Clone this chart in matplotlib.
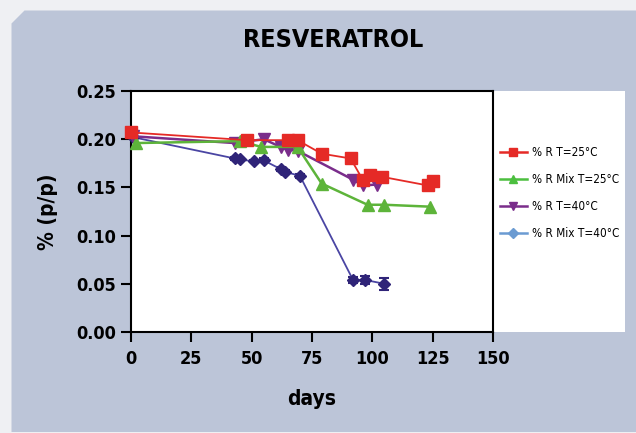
import matplotlib
matplotlib.use("Agg")
import matplotlib.pyplot as plt
from matplotlib.patches import Polygon, Rectangle
from matplotlib.lines import Line2D

plt.rcParams['font.family'] = ['DejaVu Sans']
plt.rcParams['font.stretch'] = 'condensed'
plt.rcParams['font.weight'] = 'bold'

# ---- data ----
red_days = [0, 48, 65, 69, 79, 91, 96, 99, 104, 123, 125]
red_vals = [0.207, 0.199, 0.199, 0.199, 0.185, 0.180, 0.158, 0.163, 0.161, 0.152, 0.157]

green_days = [2, 45, 54, 69, 79, 98, 105, 124]
green_vals = [0.196, 0.198, 0.192, 0.192, 0.154, 0.132, 0.132, 0.130]

purple_days = [1, 43, 55, 62, 65, 69, 92, 96, 102]
purple_vals = [0.203, 0.196, 0.200, 0.192, 0.189, 0.188, 0.158, 0.152, 0.153]

navy_days = [1, 43, 45, 51, 55, 62, 64, 70, 92, 97, 105]
navy_vals = [0.202, 0.180, 0.179, 0.177, 0.178, 0.169, 0.166, 0.162, 0.054, 0.054, 0.050]
navy_err = [0.001, 0.002, 0.001, 0.001, 0.002, 0.002, 0.002, 0.002, 0.003, 0.004, 0.006]

labels = ['% R T=25°C', '% R Mix T=25°C', '% R T=40°C', '% R Mix T=40°C']
xticks = [0, 25, 50, 75, 100, 125, 150]
yticks = [0.00, 0.05, 0.10, 0.15, 0.20, 0.25]

W, H = 636, 433
fig = plt.figure(figsize=(W / 100, H / 100), dpi=100, facecolor='#eff0f3')

# panel with cut corner
panel_col = '#bcc5d8'
poly = Polygon([(11.5 / W, 1 / H), (1.0, 1 / H), (1.0, 422.5 / H), (24.5 / W, 422.5 / H),
                (11.5 / W, 409.5 / H)], closed=True, transform=fig.transFigure,
               facecolor=panel_col, edgecolor='none', zorder=-3)
fig.patches.append(poly)

ax_l, ax_r, ax_t, ax_b = 131, 493, 91, 332
white = Rectangle((ax_l / W, (H - ax_b) / H), (625 - ax_l) / W, (ax_b - ax_t) / H,
                  transform=fig.transFigure, facecolor='white', edgecolor='none', zorder=-2)
fig.patches.append(white)

ax = fig.add_axes([ax_l / W, (H - ax_b) / H, (ax_r - ax_l) / W, (ax_b - ax_t) / H])
ax.set_facecolor('white')

c_red = '#e52a26'
c_green = '#5db43a'
c_purple = '#7a2d8b'
c_navy_line = '#4a45a3'
c_navy_mk = '#2f2478'

ax.errorbar(navy_days, navy_vals, yerr=navy_err, color=c_navy_line, lw=1.3,
            marker='D', ms=6, mfc=c_navy_mk, mec=c_navy_mk, ecolor=c_navy_mk,
            elinewidth=1.5, capsize=3.5, capthick=1.5, zorder=3)
ax.plot(purple_days, purple_vals, color=c_purple, lw=1.8, marker='v', ms=8,
        mfc=c_purple, mec=c_purple, zorder=4)
ax.plot(green_days, green_vals, color=c_green, lw=1.8, marker='^', ms=8,
        mfc=c_green, mec=c_green, zorder=5)
ax.plot(red_days, red_vals, color=c_red, lw=1.3, marker='s', ms=8.5,
        mfc=c_red, mec=c_red, zorder=6)

ax.set_xlim(0, 150)
ax.set_ylim(0, 0.25)
ax.set_xticks(xticks)
ax.set_yticks(yticks)
ax.set_xticklabels([str(t) for t in xticks])
ax.set_yticklabels(['%.2f' % t for t in yticks])
ax.tick_params(direction='out', length=7, width=1.5, labelsize=13)
ax.tick_params(axis='x', pad=6)
ax.tick_params(axis='y', pad=4)
for lab in ax.get_xticklabels() + ax.get_yticklabels():
    lab.set_fontweight('bold')
for s in ax.spines.values():
    s.set_linewidth(1.5)
    s.set_color('black')
for art in ax.lines:
    art.set_clip_on(False)

ax.set_xlabel('days', fontsize=15, fontweight='bold', labelpad=15)
ax.set_ylabel('% (p/p)', fontsize=15, fontweight='bold', labelpad=13)

fig.text(333 / W, 1 - 40 / H, 'RESVERATROL', ha='center', va='center',
         fontsize=18, fontweight='bold')

handles = [
    Line2D([], [], color=c_red, lw=1.8, marker='s', ms=6, mfc=c_red, mec=c_red),
    Line2D([], [], color='#4cbf3f', lw=1.8, marker='^', ms=6, mfc='#4cbf3f', mec='#4cbf3f'),
    Line2D([], [], color=c_purple, lw=1.8, marker='v', ms=6, mfc=c_purple, mec=c_purple),
    Line2D([], [], color='#6b9bd2', lw=1.8, marker='D', ms=5, mfc='#6b9bd2', mec='#6b9bd2'),
]
leg = fig.legend(handles, labels, loc='upper left', bbox_to_anchor=(495 / W, 1 - 141 / H),
                 frameon=False, fontsize=8.5, handlelength=2.3, handletextpad=0.4,
                 labelspacing=1.2, borderaxespad=0)
for t in leg.get_texts():
    t.set_fontweight('normal')

fig.savefig('out.png', dpi=100, facecolor=fig.get_facecolor())
